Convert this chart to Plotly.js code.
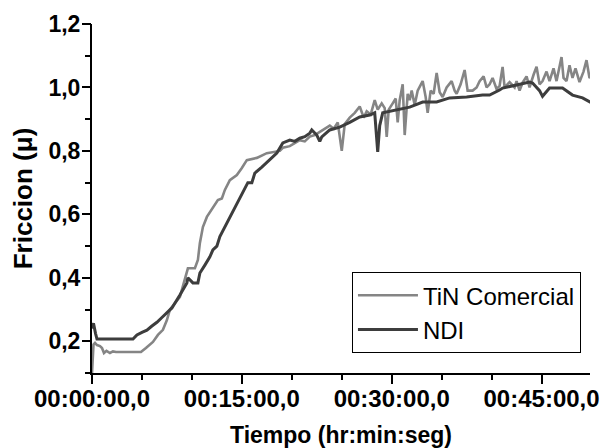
<!DOCTYPE html>
<html><head><meta charset="utf-8">
<script src="https://cdn.plot.ly/plotly-3.0.1.min.js"></script>
<style>html,body{margin:0;padding:0;background:#fff}#chart{width:606px;height:448px}</style>
</head><body><div id="chart"></div>
<script>
const seriesNames = ["TiN Comercial", "NDI"];

const tinTime = [0, 0.15, 0.3, 0.5, 0.8, 1.0, 1.2, 1.45, 1.8, 2.1, 2.4, 4.9, 5.4, 6.1, 6.6, 7.1, 7.5, 7.8, 8.8, 9.3, 9.6, 10.3, 10.6, 10.8, 11.1, 11.5, 12.1, 12.6, 13.0, 13.3, 13.8, 14.5, 15.0, 15.5, 16.5, 17.5, 18.8,
  19.1, 19.8, 20.3, 20.8, 21.3, 21.8, 22.3, 22.8, 23.3, 23.8, 24.2, 24.6, 25.0, 25.3, 25.8, 26.3, 26.8, 27.2, 27.5, 27.9, 28.3, 28.6, 29.0, 29.3, 29.5, 29.7, 30.1, 30.4, 30.6, 30.8,
  31.1, 31.3, 31.6, 31.8, 32.0, 32.3, 32.6, 33.1, 33.4, 33.6, 33.9, 34.2, 34.5, 34.8, 35.1, 35.5, 36.0, 36.3, 36.5, 36.9, 37.3, 37.6, 38.1, 38.5, 38.8, 39.2, 39.5, 39.8,
  40.1, 40.5, 40.8, 41.1, 41.3, 41.8, 42.3, 42.5, 42.8, 43.1, 43.5, 43.8, 44.2, 44.5, 44.8, 45.1, 45.5, 45.8, 46.2, 46.5, 47.0, 47.2, 47.5, 47.8, 48.1, 48.4, 48.8, 49.2, 49.5, 49.8, 50.1];
const tinMu = [0.10, 0.19, 0.195, 0.188, 0.185, 0.179, 0.163, 0.17, 0.163, 0.168, 0.166, 0.166, 0.179, 0.198, 0.22, 0.236, 0.267, 0.30, 0.34, 0.393, 0.43, 0.43, 0.456, 0.51, 0.56, 0.592, 0.623, 0.645, 0.65, 0.677, 0.708, 0.724, 0.746, 0.771, 0.778, 0.793, 0.80,
  0.81, 0.815, 0.825, 0.834, 0.83, 0.845, 0.85, 0.86, 0.87, 0.88, 0.87, 0.89, 0.80, 0.885, 0.905, 0.92, 0.94, 0.905, 0.925, 0.915, 0.96, 0.93, 0.95, 0.935, 0.844, 0.93, 0.95, 0.965, 0.89, 0.96,
  1.01, 0.85, 0.98, 0.96, 0.99, 0.945, 0.99, 1.02, 0.97, 0.92, 0.99, 0.98, 1.046, 0.985, 0.97, 1.0, 1.02, 0.99, 0.98, 1.01, 1.055, 0.99, 0.99, 1.0, 1.02, 1.035, 1.0, 1.01,
  1.03, 0.995, 1.005, 1.065, 1.0, 1.017, 1.0, 1.02, 0.99, 1.015, 1.035, 1.0, 1.04, 1.065, 1.01, 1.02, 1.05, 1.02, 1.06, 1.02, 1.096, 1.03, 1.02, 1.07, 1.03, 1.06, 1.017, 1.05, 1.086, 1.03, 1.04];

const ndiTime = [0, 0.15, 0.35, 0.5, 4.1, 4.5, 5.0, 5.5, 6.0, 6.5, 7.0, 7.5, 8.0, 8.8, 9.5, 9.6, 10.1, 10.6, 10.8, 11.3, 11.8, 12.1, 12.5, 12.8, 13.3, 13.8, 14.3, 15.0, 15.6, 16.0, 16.3, 17.0, 17.8, 18.5,
  19.1, 19.8, 20.3, 20.8, 21.3, 21.8, 22.0, 22.5, 22.8, 23.0, 23.8, 24.8, 25.8, 26.8, 27.8, 28.3, 28.6, 28.8, 29.1, 30.5, 31.8, 33.1, 34.5, 35.8, 37.5, 39.1, 39.8, 40.8, 41.1, 42.5, 43.8, 44.1, 44.5, 44.8, 45.1, 45.8, 47.1, 48.1, 49.1, 50.1];
const ndiMu = [0.24, 0.257, 0.225, 0.207, 0.207, 0.22, 0.228, 0.235, 0.248, 0.26, 0.275, 0.29, 0.305, 0.346, 0.384, 0.40, 0.384, 0.384, 0.415, 0.44, 0.466, 0.488, 0.50, 0.53, 0.56, 0.592, 0.623, 0.667, 0.70, 0.70, 0.73, 0.749, 0.771, 0.793,
  0.825, 0.834, 0.83, 0.84, 0.845, 0.856, 0.866, 0.85, 0.83, 0.844, 0.866, 0.875, 0.89, 0.907, 0.913, 0.92, 0.797, 0.88, 0.92, 0.93, 0.938, 0.954, 0.954, 0.967, 0.97, 0.976, 0.976, 0.992, 0.998, 1.008, 1.017, 1.014, 1.0, 0.99, 0.972, 0.998, 0.998, 0.976, 0.967, 0.95];

const xTickVals = [0, 15, 30, 45];
const xTickText = ["00:00:00,0", "00:15:00,0", "00:30:00,0", "00:45:00,0"];
const xMinorVals = [5, 10, 20, 25, 35, 40];
const yTickVals = [0.2, 0.4, 0.6, 0.8, 1.0, 1.2];
const yMinorVals = [0.1, 0.3, 0.5, 0.7, 0.9, 1.1];

const FONT = "Liberation Sans, Arial, sans-serif";
const X_RANGE = [0, 49.85];
const Y_RANGE = [0.1, 1.2];

const traces = [
  {x: tinTime, y: tinMu, name: seriesNames[0], mode: "lines", line: {color: "#858585", width: 2.6}},
  {x: ndiTime, y: ndiMu, name: seriesNames[1], mode: "lines", line: {color: "#3d3d3d", width: 3}},
  // empty helper trace so the overlaid tick-only axes (long major ticks) get drawn
  {x: [], y: [], xaxis: "x2", yaxis: "y2", mode: "lines", showlegend: false, hoverinfo: "skip"}
];

const minorX = {tickmode: "array", tickvals: xMinorVals, ticks: "outside", ticklen: 5, tickwidth: 2, tickcolor: "#000", showgrid: false};
const minorY = {tickmode: "array", tickvals: yMinorVals, ticks: "outside", ticklen: 5, tickwidth: 2, tickcolor: "#000", showgrid: false};

const layout = {
  width: 606, height: 448,
  margin: {l: 92, r: 16, t: 24, b: 75},
  paper_bgcolor: "#fff", plot_bgcolor: "#fff",
  separators: ",.",
  font: {family: FONT, color: "#000"},
  xaxis: {
    range: X_RANGE, showline: true, linewidth: 2, linecolor: "#000", showgrid: false, zeroline: false,
    tickmode: "array", tickvals: xTickVals, ticktext: xTickText,
    ticks: "outside", ticklen: 3, tickwidth: 2, tickcolor: "#000",
    tickfont: {family: FONT, size: 24, color: "#000", weight: "bold"},
    minor: minorX,
    title: {text: "Tiempo (hr:min:seg)", font: {family: FONT, size: 23, weight: "bold", color: "#000"}, standoff: 22}
  },
  xaxis2: {
    overlaying: "x", anchor: "y2", side: "bottom", range: X_RANGE, showline: false, showgrid: false, zeroline: false,
    tickmode: "array", tickvals: xTickVals, showticklabels: false,
    ticks: "outside", ticklen: 10, tickwidth: 2, tickcolor: "#000"
  },
  yaxis: {
    range: Y_RANGE, showline: true, linewidth: 2, linecolor: "#000", showgrid: false, zeroline: false,
    tickmode: "array", tickvals: yTickVals, tickformat: ".1f",
    ticks: "outside", ticklen: 5, tickwidth: 2, tickcolor: "#000",
    tickfont: {family: FONT, size: 23, color: "#000", weight: "bold"},
    minor: minorY,
    title: {text: "Friccion (μ)", font: {family: FONT, size: 26, weight: "bold", color: "#000"}, standoff: 8}
  },
  yaxis2: {
    overlaying: "y", anchor: "x2", side: "left", range: Y_RANGE, showline: false, showgrid: false, zeroline: false,
    tickmode: "array", tickvals: yTickVals, showticklabels: false,
    ticks: "outside", ticklen: 9, tickwidth: 2, tickcolor: "#000"
  },
  showlegend: true,
  legend: {
    x: 0.522, y: 0.057, xanchor: "left", yanchor: "bottom",
    bgcolor: "#fff", bordercolor: "#000", borderwidth: 1,
    font: {family: FONT, size: 24, color: "#000"},
    itemwidth: 60, tracegroupgap: 0
  }
};

Plotly.newPlot("chart", traces, layout, {displayModeBar: false, staticPlot: true});
</script>
</body></html>
